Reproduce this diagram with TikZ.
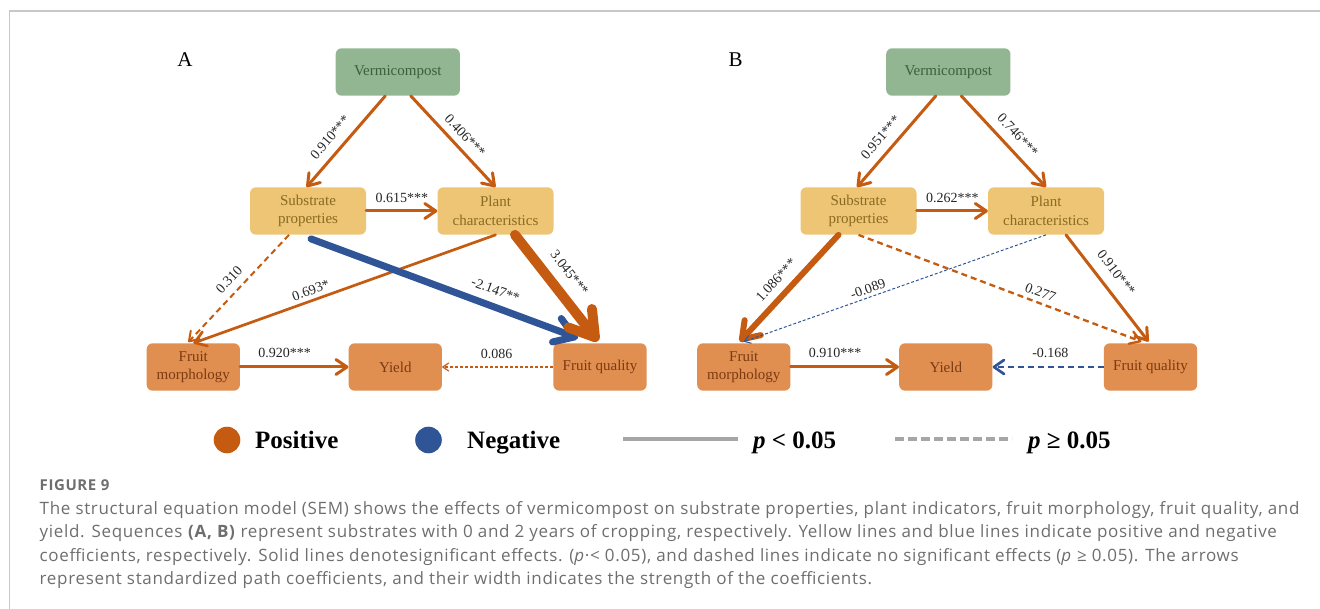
\documentclass[tikz,border=0pt]{standalone}
\usepackage{fontspec}
\setmainfont{Liberation Serif}
\newfontfamily\capfont{Open Sans}[LetterSpace=4]
\usetikzlibrary{arrows.meta,calc}
\definecolor{orl}{HTML}{C55A11}
\definecolor{bll}{HTML}{2F5597}
\definecolor{gfill}{HTML}{92B692}
\definecolor{gtext}{HTML}{3B5E3B}
\definecolor{yfill}{HTML}{EDC575}
\definecolor{ytext}{HTML}{8B6A22}
\definecolor{ofill}{HTML}{E08F50}
\definecolor{otext}{HTML}{7B3A12}
\definecolor{framegray}{HTML}{C8C8C8}
\definecolor{leggray}{HTML}{A6A6A6}
\definecolor{capgray}{HTML}{6E6E6E}
\begin{document}
\begin{tikzpicture}[x=1pt,y=-1pt,
  box/.style={rectangle, rounded corners=6pt, minimum height=47.4pt, inner sep=0pt,
    align=center, font=\fontsize{15}{18.5}\selectfont},
  gbox/.style={box, fill=gfill, text=gtext, minimum width=124.3pt},
  ybox/.style={box, fill=yfill, text=ytext, minimum width=116pt},
  obox/.style={box, fill=ofill, text=otext, minimum width=93.3pt},
  lab/.style={font=\fontsize{14}{14}\selectfont, text=black!85, inner sep=1.5pt},
  arw/.style n args={3}{line width=#1pt, line cap=round, -{Straight Barb[round,length=#2pt,width=#3pt]}},
  dsh/.style={dash pattern=on 6pt off 4pt, line cap=butt},
  fdsh/.style={dash pattern=on 3pt off 2pt, line cap=butt},
  panel/.style={font=\fontsize{21}{21}\selectfont},
  legtxt/.style={font=\fontsize{25}{25}\selectfont\bfseries, anchor=base west, inner sep=0pt},
  capline/.style={font=\capfont\fontsize{17}{20}\selectfont, text=capgray, anchor=base west, inner sep=0pt}
]
\useasboundingbox (0,0) rectangle (1320,609);
\draw[framegray, line width=1.2pt] (9.5,609.5) -- (9.5,11) -- (1320.5,11);

% ---------------- Panel A ----------------
\node[panel] (A-lbl) at (185,60) {A};
\node[gbox] (A-vc) at (397.8,72) {Vermicompost};
\node[ybox] (A-sp) at (308,211) {Substrate\\properties};
\node[ybox] (A-pc) at (495.5,211) {Plant\\characteristics};
\node[obox] (A-fm) at (193.3,367) {Fruit\\morphology};
\node[obox] (A-yd) at (395.3,367) {Yield};
\node[obox] (A-fq) at (600,367) {Fruit quality};

\draw[orl, arw={3}{11}{15}] ([xshift=-12.5pt]A-vc.south) -- node[lab, sloped, above=7pt, pos=0.56]{0.910***} ([xshift=-1.5pt]A-sp.north);
\draw[orl, arw={3}{11}{15}] ([xshift=13pt]A-vc.south) -- node[lab, sloped, above=5pt, pos=0.53]{0.406***} (A-pc.north);
\draw[orl, arw={3}{11}{15}] (A-sp.east) -- node[lab, above=5pt]{0.615***} (A-pc.west);
\draw[orl, arw={2}{9}{12}, dsh] ([xshift=-19pt]A-sp.south) -- node[lab, sloped, above=6pt, pos=0.5]{0.310} ([xshift=-5pt,yshift=1pt]A-fm.north);
\draw[orl, arw={2.7}{11}{15}] (A-pc.south) -- node[lab, sloped, above=2.5pt, pos=0.6]{0.693*} ([yshift=0pt]A-fm.north);
\draw[bll, arw={7}{19}{25}] ([xshift=3pt,yshift=-4pt]A-sp.south) -- node[lab, sloped, above=6.5pt, pos=0.67]{-2.147**} ([xshift=-22pt,yshift=5pt]A-fq.north);
\draw[orl, arw={10}{24}{30}] ([xshift=19.5pt]A-pc.south) -- node[lab, sloped, above=8.5pt, pos=0.47]{3.045***} ([xshift=-2pt,yshift=2pt]A-fq.north);
\draw[orl, arw={3}{11}{15}] (A-fm.east) -- node[lab, above=6pt, pos=0.41]{0.920***} (A-yd.west);
\draw[orl, arw={1.2}{6}{8}, fdsh] (A-fq.west) -- node[lab, above=6pt, pos=0.51]{0.086} (A-yd.east);

% ---------------- Panel B ----------------
\node[panel] (B-lbl) at (735.7,60) {B};
\node[gbox] (B-vc) at (948.3,72) {Vermicompost};
\node[ybox] (B-sp) at (858.5,211) {Substrate\\properties};
\node[ybox] (B-pc) at (1046,211) {Plant\\characteristics};
\node[obox] (B-fm) at (743.8,367) {Fruit\\morphology};
\node[obox] (B-yd) at (945.8,367) {Yield};
\node[obox] (B-fq) at (1150.5,367) {Fruit quality};

\draw[orl, arw={3}{11}{15}] ([xshift=-12.5pt]B-vc.south) -- node[lab, sloped, above=7pt, pos=0.56]{0.951***} ([xshift=-1.5pt]B-sp.north);
\draw[orl, arw={3}{11}{15}] ([xshift=13pt]B-vc.south) -- node[lab, sloped, above=7pt, pos=0.54]{0.746***} (B-pc.north);
\draw[orl, arw={3}{11}{15}] (B-sp.east) -- node[lab, above=5pt]{0.262***} (B-pc.west);
\draw[orl, arw={6}{16}{22}] ([xshift=-20pt]B-sp.south) -- node[lab, sloped, above=6pt, pos=0.52]{1.086***} ([xshift=-4pt,yshift=1.5pt]B-fm.north);
\draw[bll, arw={1}{6}{8}, fdsh] (B-pc.south) -- node[lab, sloped, above=1.5pt, pos=0.58]{-0.089} ([yshift=1.5pt]B-fm.north);
\draw[orl, arw={2.3}{10}{13}, dsh] (B-sp.south) -- node[lab, sloped, above=3pt, pos=0.63]{0.277} ([xshift=-9pt,yshift=1.5pt]B-fq.north);
\draw[orl, arw={3}{11}{15}] ([xshift=20pt]B-pc.south) -- node[lab, sloped, above=9pt, pos=0.45]{0.910***} ([xshift=-2pt,yshift=1.5pt]B-fq.north);
\draw[orl, arw={3}{11}{15}] (B-fm.east) -- node[lab, above=6pt, pos=0.41]{0.910***} (B-yd.west);
\draw[bll, arw={2.7}{10}{14}, dsh] (B-fq.west) -- node[lab, above=6pt, pos=0.48]{-0.168} (B-yd.east);

% ---------------- Legend ----------------
\fill[orl] (227,440) circle[radius=13.3pt];
\node[legtxt] (leg-pos) at (255,448) {Positive};
\fill[bll] (428.5,440) circle[radius=13.3pt];
\node[legtxt] (leg-neg) at (467,448) {Negative};
\coordinate (ls1) at (623,439);
\coordinate (ls2) at (738,439);
\draw[leggray, line width=4pt] (ls1) -- (ls2);
\node[legtxt] (leg-sig) at (753,448) {\textit{p} < 0.05};
\coordinate (ld1) at (895,439);
\coordinate (ld2) at (1012,439);
\draw[leggray, line width=3.5pt, dash pattern=on 9pt off 4pt] (ld1) -- (ld2);
\node[legtxt] (leg-ns) at (1028,448) {\textit{p} ≥ 0.05};

% ---------------- Caption ----------------
\node[capline, font=\capfont\bfseries\fontsize{15}{17}\selectfont] (cap0) at (39.5,490) {FIGURE 9};
\node[capline] (cap1) at (39.5,514) {The structural equation model (SEM) shows the effects of vermicompost on substrate properties, plant indicators, fruit morphology, fruit quality, and};
\node[capline] (cap2) at (39.5,537.5) {yield. Sequences \textbf{(A, B)} represent substrates with 0 and 2 years of cropping, respectively. Yellow lines and blue lines indicate positive and negative};
\node[capline] (cap3) at (39.5,561) {coefficients, respectively. Solid lines denotesignificant effects. (\textit{p}·< 0.05), and dashed lines indicate no significant effects (\textit{p} ≥ 0.05). The arrows};
\node[capline] (cap4) at (39.5,584.5) {represent standardized path coefficients, and their width indicates the strength of the coefficients.};
\end{tikzpicture}
\end{document}
